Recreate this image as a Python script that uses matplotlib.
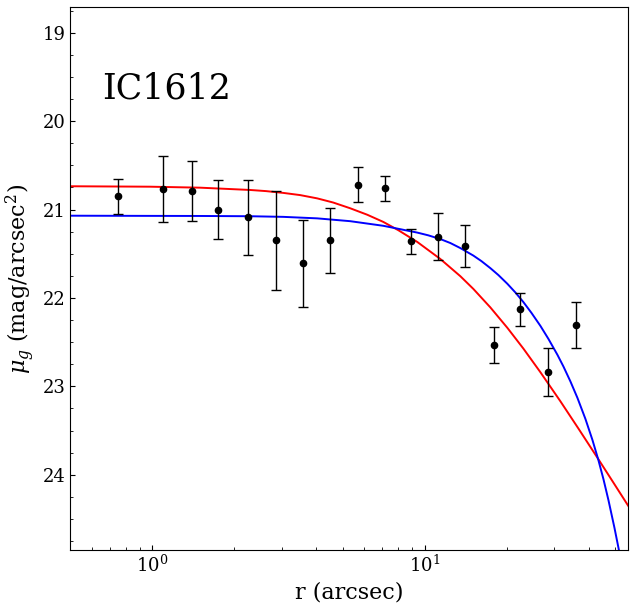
import numpy as np
import matplotlib
matplotlib.use("Agg")
import matplotlib.pyplot as plt
from matplotlib.ticker import LogLocator, MultipleLocator

plt.rcParams['font.family'] = ['DejaVu Serif']
plt.rcParams['mathtext.fontset'] = 'dejavuserif'

r_obs = [0.748, 1.095, 1.40, 1.744, 2.25, 2.85, 3.58, 4.50, 5.70,
         7.16, 8.93, 11.23, 14.1, 18.0, 22.4, 28.5, 36.1]
mu_obs = [20.85, 20.77, 20.79, 21.00, 21.09, 21.35, 21.61, 21.35, 20.72,
          20.76, 21.36, 21.31, 21.41, 22.53, 22.13, 22.84, 22.31]
mu_err = [0.20, 0.37, 0.34, 0.33, 0.42, 0.56, 0.49, 0.37, 0.20,
          0.14, 0.145, 0.265, 0.24, 0.20, 0.19, 0.27, 0.26]

# ---- model curves ----
r_red = [0.4982, 0.9807, 1.4976, 2.2870, 2.618, 3.0237, 3.4917, 4.0323,
         4.6164, 5.3310, 6.1566, 7.0497, 8.0083, 9.4015, 11.419, 13.529,
         15.105, 17.441, 20.140, 23.064, 26.632, 31.545, 36.735, 43.515,
         49.395, 56.097]
mu_red = [20.737, 20.742, 20.753, 20.779, 20.792, 20.812, 20.837, 20.874,
          20.921, 20.986, 21.059, 21.140, 21.234, 21.367, 21.559, 21.754,
          21.898, 22.107, 22.338, 22.573, 22.840, 23.169, 23.477, 23.825,
          24.089, 24.355]

r_blue = [0.4982, 0.9807, 1.4976, 2.2870, 3.0237, 4.0323, 5.3310, 7.0497,
          9.4015, 10.318, 11.419, 12.434, 13.529, 15.105, 16.163, 17.441,
          18.664, 20.140, 21.549, 23.064, 24.679, 26.632, 28.499, 30.754,
          32.355, 34.326, 36.425, 38.970, 41.345, 43.515, 45.395, 47.362,
          49.815, 51.971, 53.556]
mu_blue = [21.070, 21.072, 21.073, 21.076, 21.083, 21.100, 21.132, 21.184,
           21.261, 21.292, 21.334, 21.379, 21.436, 21.521, 21.583, 21.663,
           21.741, 21.840, 21.938, 22.047, 22.168, 22.316, 22.463, 22.643,
           22.775, 22.944, 23.130, 23.368, 23.605, 23.836, 24.050, 24.288,
           24.599, 24.882, 25.062]

fig = plt.figure(figsize=(6.34, 6.08), dpi=100)
ax = fig.add_axes([0.111, 0.0954, 0.88, 0.8931])

ax.plot(r_red, mu_red, color='red', lw=1.4, solid_joinstyle='round')
ax.plot(r_blue, mu_blue, color='blue', lw=1.4, solid_joinstyle='round')
ax.errorbar(r_obs, mu_obs, yerr=mu_err, fmt='o', color='black', ms=4.5,
            elinewidth=1, capsize=3.5, capthick=1)

ax.set_xscale('log')
ax.set_xlim(0.5, 56)
ax.set_ylim(24.85, 18.71)
ax.yaxis.set_major_locator(MultipleLocator(1))
ax.yaxis.set_minor_locator(MultipleLocator(0.25))
ax.xaxis.set_minor_locator(LogLocator(base=10, subs=np.arange(2, 10)))
ax.tick_params(which='both', direction='in', top=False, right=False,
               labelsize=13)

ax.set_xlabel('r (arcsec)', fontsize=16)
ax.set_ylabel(r'$\mu_g$ (mag/arcsec$^2$)', fontsize=16)
ax.text(0.057, 0.832, 'IC1612', transform=ax.transAxes, fontsize=25,
        va='baseline', ha='left')

fig.savefig('out.png', dpi=100)
